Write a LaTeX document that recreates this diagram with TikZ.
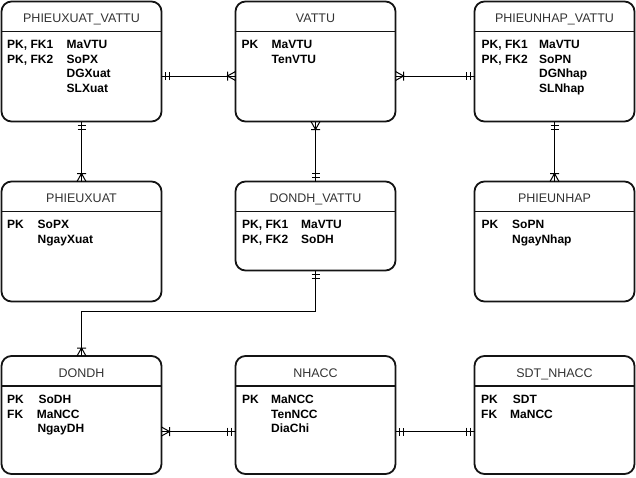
\documentclass[tikz,border=0pt]{standalone}
\usepackage{fontspec}
\setmainfont{Liberation Sans}
\definecolor{hdr}{RGB}{51,51,51}
\definecolor{edge}{RGB}{20,20,20}
\tikzset{
  tbl/.style={draw=edge, line width=1.8pt, rounded corners=10pt, minimum width=160pt, inner sep=0pt, outer sep=0pt},
  hline/.style={draw=edge, line width=1.6pt},
  title/.style={font=\fontsize{12.5}{14}\selectfont, text=hdr, anchor=base, inner sep=0pt},
  fld/.style={font=\fontsize{12}{14}\selectfont\bfseries, text=black, anchor=base west, inner sep=0pt},
  conn/.style={draw=black, line width=1pt},
}
\newcommand\mandone[2]{\begin{scope}[shift={#1},rotate=#2]\draw[conn] (4pt,-4pt)--(4pt,4pt) (8pt,-4pt)--(8pt,4pt);\end{scope}}
\newcommand\onemany[2]{\begin{scope}[shift={#1},rotate=#2]\draw[conn] (0pt,-4.5pt)--(8pt,0pt)--(0pt,4.5pt) (8pt,-4.5pt)--(8pt,4.5pt);\end{scope}}
\begin{document}
\begin{tikzpicture}[x=1pt,y=1pt]
\useasboundingbox (0,0) rectangle (636,-477);
% boxes
\node[tbl, minimum height=120pt] (pxv) at (81.5,-61.5) {};
\node[tbl, minimum height=120pt] (vattu) at (315.5,-61.5) {};
\node[tbl, minimum height=120pt] (pnv) at (554.5,-61.5) {};
\node[tbl, minimum height=120pt] (px) at (81.5,-241.5) {};
\node[tbl, minimum height=89pt] (ddv) at (315.5,-226) {};
\node[tbl, minimum height=120pt] (pn) at (554.5,-241.5) {};
\node[tbl, minimum height=118pt] (dd) at (81.5,-415) {};
\node[tbl, minimum height=118pt] (ncc) at (315.5,-415) {};
\node[tbl, minimum height=118pt] (sdt) at (554.5,-415) {};
% header lines
\foreach \b in {pxv,vattu,pnv,px,ddv,pn,dd,ncc,sdt}{
  \draw[hline] ([yshift=-30pt]\b.north west) -- ([yshift=-30pt]\b.north east);
}
% titles
\node[title] (tpxv) at (81.5,-22.5) {PHIEUXUAT\_VATTU};
\node[title] (tvattu) at (315.5,-22.5) {VATTU};
\node[title] (tpnv) at (554.5,-22.5) {PHIEUNHAP\_VATTU};
\node[title] (tpx) at (81.5,-202.5) {PHIEUXUAT};
\node[title] (tddv) at (315.5,-202.5) {DONDH\_VATTU};
\node[title] (tpn) at (554.5,-202.5) {PHIEUNHAP};
\node[title] (tdd) at (81.5,-377) {DONDH};
\node[title] (tncc) at (315.5,-377) {NHACC};
\node[title] (tsdt) at (554.5,-377) {SDT\_NHACC};
% PHIEUXUAT_VATTU
\node[fld] (a1) at (7,-48.5) {PK, FK1};
\node[fld] (a2) at (7,-63) {PK, FK2};
\node[fld] (a3) at (66.5,-48.5) {MaVTU};
\node[fld] (a4) at (66.5,-63) {SoPX};
\node[fld] (a5) at (66.5,-77.5) {DGXuat};
\node[fld] (a6) at (66.5,-92) {SLXuat};
% VATTU
\node[fld] (b1) at (241.5,-48.5) {PK};
\node[fld] (b2) at (271.5,-48.5) {MaVTU};
\node[fld] (b3) at (271.5,-63) {TenVTU};
% PHIEUNHAP_VATTU
\node[fld] (c1) at (481.5,-48.5) {PK, FK1};
\node[fld] (c2) at (481.5,-63) {PK, FK2};
\node[fld] (c3) at (539,-48.5) {MaVTU};
\node[fld] (c4) at (539,-63) {SoPN};
\node[fld] (c5) at (539,-77.5) {DGNhap};
\node[fld] (c6) at (539,-92) {SLNhap};
% PHIEUXUAT
\node[fld] (d1) at (7,-228.5) {PK};
\node[fld] (d2) at (37.5,-228.5) {SoPX};
\node[fld] (d3) at (37.5,-243) {NgayXuat};
% DONDH_VATTU
\node[fld] (e1) at (242,-228.5) {PK, FK1};
\node[fld] (e2) at (242,-243) {PK, FK2};
\node[fld] (e3) at (301,-228.5) {MaVTU};
\node[fld] (e4) at (301,-243) {SoDH};
% PHIEUNHAP
\node[fld] (f1) at (481.5,-228.5) {PK};
\node[fld] (f2) at (512,-228.5) {SoPN};
\node[fld] (f3) at (512,-243) {NgayNhap};
% DONDH
\node[fld] (g1) at (7,-403.5) {PK};
\node[fld] (g2) at (7,-418) {FK};
\node[fld] (g3) at (38.3,-403.5) {SoDH};
\node[fld] (g4) at (36.7,-418) {MaNCC};
\node[fld] (g5) at (37.3,-432.5) {NgayDH};
% NHACC
\node[fld] (h1) at (241.8,-403.5) {PK};
\node[fld] (h2) at (271,-403.5) {MaNCC};
\node[fld] (h3) at (271,-418) {TenNCC};
\node[fld] (h4) at (271,-432.5) {DiaChi};
% SDT_NHACC
\node[fld] (i1) at (481,-403.5) {PK};
\node[fld] (i2) at (481,-418) {FK};
\node[fld] (i3) at (512.7,-403.5) {SDT};
\node[fld] (i4) at (510,-418) {MaNCC};
% connectors
\coordinate (r1) at (0,-76);
\coordinate (r3) at (0,-431.5);
\coordinate (elb) at (0,-311.5);
\draw[conn] (pxv.east |- r1) -- (vattu.west |- r1);
\mandone{(pxv.east |- r1)}{0}
\onemany{(vattu.west |- r1)}{180}
\draw[conn] (vattu.east |- r1) -- (pnv.west |- r1);
\onemany{(vattu.east |- r1)}{0}
\mandone{(pnv.west |- r1)}{180}
\draw[conn] (pxv.south) -- (px.north);
\mandone{(pxv.south)}{270}
\onemany{(px.north)}{90}
\draw[conn] (vattu.south) -- (ddv.north);
\onemany{(vattu.south)}{270}
\mandone{(ddv.north)}{90}
\draw[conn] (pnv.south) -- (pn.north);
\mandone{(pnv.south)}{270}
\onemany{(pn.north)}{90}
\draw[conn] (ddv.south) -- (ddv.south |- elb) -- (dd.north |- elb) -- (dd.north);
\mandone{(ddv.south)}{270}
\onemany{(dd.north)}{90}
\draw[conn] (dd.east |- r3) -- (ncc.west |- r3);
\onemany{(dd.east |- r3)}{0}
\mandone{(ncc.west |- r3)}{180}
\draw[conn] (ncc.east |- r3) -- (sdt.west |- r3);
\mandone{(ncc.east |- r3)}{0}
\mandone{(sdt.west |- r3)}{180}
\end{tikzpicture}
\end{document}
